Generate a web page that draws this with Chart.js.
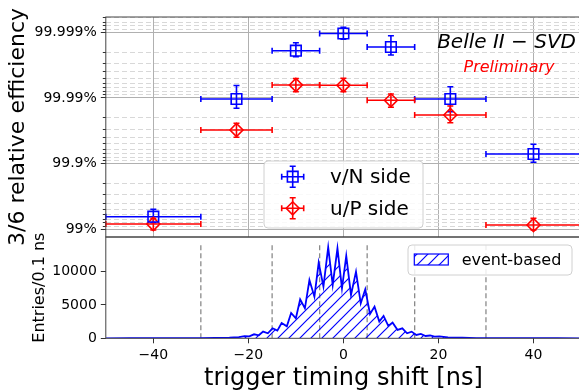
<!DOCTYPE html>
<html>
<head>
<meta charset="utf-8">
<script src="https://cdn.jsdelivr.net/npm/chart.js@4.4.0/dist/chart.umd.min.js"></script>
<style>
  html, body { margin: 0; padding: 0; background: #fff; }
  #wrap { position: relative; width: 579px; height: 392px; overflow: hidden; }
  #wrap canvas { position: absolute; left: 0; top: 0; }
</style>
</head>
<body>
<div id="wrap">
  <canvas id="effChart" width="600" height="392"></canvas>
  <canvas id="histChart" width="600" height="392"></canvas>
</div>
<script>
'use strict';
/*------------- data -------------*/
// trigger timing shift bins [ns]
const binEdges = [-50, -30, -15, -5, 5, 15, 30, 50];
const binCenters = [-40, -22.5, -10, 0, 10, 22.5, 40];

// 3/6 relative efficiency [%] : value, lower bound, upper bound
const effN = [99.357, 99.98963, 99.998093, 99.998957, 99.998325, 99.98963, 99.92865];
const effNLow = [99.207, 99.98563, 99.997647, 99.998721, 99.997782, 99.98381, 99.90457];
const effNHigh = [99.504, 99.99354, 99.998559, 99.999161, 99.998873, 99.99326, 99.94924];
const effP = [99.1696, 99.96925, 99.993652, 99.993585, 99.98915, 99.98183, 99.14];
const effPLow = [98.9751, 99.96028, 99.99197, 99.99197, 99.98612, 99.9762, 98.9751];
const effPHigh = [99.3199, 99.97569, 99.994946, 99.99498, 99.9913, 99.98674, 99.3199];

const effTickValues = [99, 99.9, 99.99, 99.999];
const effTickLabels = ['99%', '99.9%', '99.99%', '99.999%'];
const xTickValues = [-40, -20, 0, 20, 40];
const xTickLabels = ['\u221240', '\u221220', '0', '20', '40'];
const histTickValues = [0, 5000, 10000];
const histTickLabels = ['0', '5000', '10000'];

// event-based histogram, Entries / 0.1 ns (peaks and valleys)
const histX = [-50, -45, -40, -35, -30, -27, -24, -22, -20.8, -19.8, -18.8, -17.8, -16.9, -15.9, -14.9, -13.9,
  -13.0, -11.9, -11.0, -10.0, -9.1, -8.1, -7.15, -6.1, -5.2, -4.2, -3.2, -2.25, -1.25, -0.3, 0.6, 1.6, 2.65,
  3.65, 4.6, 5.6, 6.55, 7.55, 8.45, 9.45, 10.35, 11.4, 12.4, 13.4, 14.35, 15.35, 16.3, 17.3, 18.25, 19.2,
  20.2, 22, 25, 28, 32, 40, 45, 50];
const histY = [2, 4, 8, 15, 30, 50, 100, 180, 330, 300, 600, 450, 1000, 750, 1500, 1150,
  2300, 1800, 3800, 3000, 5850, 4500, 8750, 6250, 11350, 7750, 13650, 8000, 13500, 7500, 12350, 6500, 10000,
  5250, 7350, 3650, 4750, 2500, 3350, 1850, 2350, 1250, 1500, 750, 1000, 500, 650, 350, 420, 250,
  280, 150, 80, 40, 20, 8, 4, 2];
const vlineTop = 14000;

/*------------- layout -------------*/
const axisLeft = 105.8;
const effRange = [5.85e-6, 0.0131]; // inefficiency shown, top to bottom
const histMax = 15200;

Chart.defaults.font.family = 'DejaVu Sans';
Chart.defaults.color = '#000';

function ineff(eff) {
  return (100 - eff) / 100;
}
const effTickIneff = effTickValues.map(ineff);

let minorTicks = [];
for (let k = -6; k <= -1; k++) {
  for (let m = 2; m <= 9; m++) {
    let v = m * Math.pow(10, k);
    if (v >= effRange[0] && v <= effRange[1]) {
      minorTicks.push(v);
    }
  }
}

const series = [
  {label: 'v/N side', color: '#0000ff', style: 'rect', radius: 7.5, eff: effN, low: effNLow, high: effNHigh},
  {label: 'u/P side', color: '#ff0000', style: 'rectRot', radius: 6.5, eff: effP, low: effPLow, high: effPHigh}
];

function drawMarker(ctx, s, x, y, dx, dy, cap) {
  ctx.strokeStyle = s.color;
  ctx.lineWidth = 1.6;
  ctx.beginPath();
  ctx.moveTo(x - dx[0], y); ctx.lineTo(x + dx[1], y);
  ctx.moveTo(x - dx[0], y - cap); ctx.lineTo(x - dx[0], y + cap);
  ctx.moveTo(x + dx[1], y - cap); ctx.lineTo(x + dx[1], y + cap);
  ctx.moveTo(x, y - dy[0]); ctx.lineTo(x, y + dy[1]);
  ctx.moveTo(x - cap, y - dy[0]); ctx.lineTo(x + cap, y - dy[0]);
  ctx.moveTo(x - cap, y + dy[1]); ctx.lineTo(x + cap, y + dy[1]);
  ctx.stroke();
}

function drawFrame(chart, color) {
  const a = chart.chartArea;
  const ctx = chart.ctx;
  ctx.save();
  ctx.strokeStyle = color;
  ctx.lineWidth = 1;
  ctx.strokeRect(a.left, a.top, a.right - a.left, a.bottom - a.top);
  ctx.restore();
}

function roundBox(ctx, x, y, w, h, r) {
  ctx.beginPath();
  ctx.moveTo(x + r, y);
  ctx.arcTo(x + w, y, x + w, y + h, r);
  ctx.arcTo(x + w, y + h, x, y + h, r);
  ctx.arcTo(x, y + h, x, y, r);
  ctx.arcTo(x, y, x + w, y, r);
  ctx.closePath();
  ctx.fillStyle = 'rgba(255,255,255,0.85)';
  ctx.fill();
  ctx.strokeStyle = '#d0d0d0';
  ctx.lineWidth = 1;
  ctx.stroke();
}

/******************* error bars, legend and labels of the top panel *******************/
const effDecor = {
  id: 'effDecor',
  beforeDatasetsDraw(chart) {
    const {ctx, scales: {x, y}} = chart;
    ctx.save();
    series.forEach(s => {
      for (let i = 0; i < binCenters.length; i++) {
        const px = x.getPixelForValue(binCenters[i]);
        const py = y.getPixelForValue(ineff(s.eff[i]));
        const dx = [px - x.getPixelForValue(binEdges[i]), x.getPixelForValue(binEdges[i + 1]) - px];
        const dy = [py - y.getPixelForValue(ineff(s.high[i])), y.getPixelForValue(ineff(s.low[i])) - py];
        drawMarker(ctx, s, px, py, dx, dy, 3);
      }
    });
    ctx.restore();
  },
  afterDatasetsDraw(chart) {
    drawFrame(chart, '#444');
  },
  afterDraw(chart) {
    const ctx = chart.ctx;
    ctx.save();
    // legend
    roundBox(ctx, 264, 161, 159, 67, 4);
    series.forEach((s, i) => {
      const ly = 176.7 + i * 31.6;
      drawMarker(ctx, s, 292.7, ly, [11, 11], [10.5, 10.5], 3);
      ctx.fillStyle = 'rgba(0,0,0,0)';
      ctx.strokeStyle = s.color;
      ctx.lineWidth = 1.6;
      Chart.helpers.drawPoint(ctx, {pointStyle: s.style, radius: s.radius, borderWidth: 1.6}, 292.7, ly);
      ctx.fillStyle = '#000';
      ctx.font = '20px DejaVu Sans';
      ctx.textAlign = 'left';
      ctx.textBaseline = 'middle';
      ctx.fillText(s.label, 330, ly + 1);
    });
    // experiment label
    ctx.textAlign = 'right';
    ctx.font = 'italic 20px DejaVu Sans';
    ctx.fillStyle = '#000';
    ctx.fillText('Belle II \u2212 SVD', 576, 43);
    ctx.textAlign = 'center';
    ctx.font = 'italic 16px DejaVu Sans';
    ctx.fillStyle = '#ff0000';
    ctx.fillText('Preliminary', 509, 68);
    ctx.restore();
  }
};

new Chart(document.getElementById('effChart'), {
  type: 'scatter',
  data: {
    datasets: series.map(s => ({
      label: s.label,
      data: binCenters.map((c, i) => ({x: c, y: ineff(s.eff[i])})),
      pointStyle: s.style,
      pointRadius: s.radius,
      pointBorderWidth: 1.6,
      borderColor: s.color,
      pointBorderColor: s.color,
      pointBackgroundColor: 'rgba(0,0,0,0)',
      backgroundColor: 'rgba(0,0,0,0)'
    }))
  },
  options: {
    responsive: false,
    animation: false,
    layout: {padding: {left: 0, right: 19, top: 17, bottom: 155}},
    plugins: {legend: {display: false}, tooltip: {enabled: false}},
    scales: {
      x: {
        type: 'linear', min: -50, max: 50,
        ticks: {display: false},
        grid: {color: '#b0b0b0', lineWidth: 1, drawTicks: false},
        border: {display: false},
        afterBuildTicks: (scale) => { scale.ticks = xTickValues.map(v => ({value: v})); },
        afterFit: (scale) => { scale.height = 0; }
      },
      y: {
        type: 'logarithmic', reverse: true, position: 'left', weight: 1,
        min: effRange[0], max: effRange[1], bounds: 'data',
        ticks: {
          font: {size: 14}, padding: 4,
          callback: (value) => {
            let idx = effTickIneff.findIndex(v => Math.abs(v - value) / v < 1e-6);
            return idx >= 0 ? effTickLabels[idx] : '';
          }
        },
        grid: {color: '#b0b0b0', lineWidth: 1, tickLength: 5, tickColor: '#333'},
        border: {display: false},
        title: {display: true, text: '3/6 relative efficiency', font: {size: 22, lineHeight: 1}, padding: {top: 7.4, bottom: 0}},
        afterBuildTicks: (scale) => { scale.ticks = effTickIneff.map(v => ({value: v})); },
        afterFit: (scale) => { scale.width = axisLeft; }
      },
      yMinor: {
        type: 'logarithmic', reverse: true, position: 'left', weight: 0,
        min: effRange[0], max: effRange[1], bounds: 'data',
        ticks: {display: false},
        grid: {color: '#d8d8d8', lineWidth: 1, tickLength: 3, tickColor: '#333'},
        border: {display: false, dash: [5, 3]},
        afterBuildTicks: (scale) => { scale.ticks = minorTicks.map(v => ({value: v})); },
        afterFit: (scale) => { scale.width = 0; }
      }
    }
  },
  plugins: [effDecor]
});

/******************* bottom panel : event-based histogram *******************/
const histCanvas = document.getElementById('histChart');

function makeHatch(color) {
  const size = 11;
  const c = document.createElement('canvas');
  c.width = size;
  c.height = size;
  const g = c.getContext('2d');
  g.strokeStyle = color;
  g.lineWidth = 1.2;
  g.beginPath();
  g.moveTo(-1, size + 1); g.lineTo(size + 1, -1);
  g.moveTo(-2, 2); g.lineTo(2, -2);
  g.moveTo(size - 2, size + 2); g.lineTo(size + 2, size - 2);
  g.stroke();
  return histCanvas.getContext('2d').createPattern(c, 'repeat');
}
const hatch = makeHatch('#0000ff');

let vlineData = [];
for (let i = 1; i < binEdges.length - 1; i++) {
  vlineData.push({x: binEdges[i], y: 0}, {x: binEdges[i], y: vlineTop}, {x: binEdges[i], y: null});
}

const histDecor = {
  id: 'histDecor',
  afterDatasetsDraw(chart) {
    drawFrame(chart, '#444');
  },
  afterDraw(chart) {
    const ctx = chart.ctx;
    ctx.save();
    roundBox(ctx, 408, 245, 164, 30, 4);
    ctx.fillStyle = hatch;
    ctx.fillRect(414.3, 254, 34, 11);
    ctx.strokeStyle = '#0000ff';
    ctx.lineWidth = 1.2;
    ctx.strokeRect(414.3, 254, 34, 11);
    ctx.fillStyle = '#000';
    ctx.font = '16px DejaVu Sans';
    ctx.textAlign = 'left';
    ctx.textBaseline = 'middle';
    ctx.fillText('event-based', 461.7, 261);
    ctx.restore();
  }
};

new Chart(histCanvas, {
  type: 'line',
  data: {
    datasets: [
      {
        label: 'event-based',
        data: histX.map((x, i) => ({x: x, y: histY[i]})),
        borderColor: '#0000ff',
        borderWidth: 1.8,
        backgroundColor: hatch,
        fill: 'origin',
        pointRadius: 0,
        tension: 0
      },
      {
        label: 'bins',
        data: vlineData,
        borderColor: '#8a8a8a',
        borderWidth: 1.3,
        borderDash: [5, 3],
        pointRadius: 0,
        fill: false,
        spanGaps: false
      }
    ]
  },
  options: {
    responsive: false,
    animation: false,
    layout: {padding: {left: 0, right: 19, top: 237, bottom: 0}},
    plugins: {legend: {display: false}, tooltip: {enabled: false}},
    scales: {
      x: {
        type: 'linear', min: -50, max: 50,
        ticks: {
          font: {size: 14}, padding: 4, maxRotation: 0,
          callback: (value) => {
            let idx = xTickValues.indexOf(value);
            return idx >= 0 ? xTickLabels[idx] : '';
          }
        },
        grid: {drawOnChartArea: false, tickLength: 5, tickColor: '#333'},
        border: {display: false},
        title: {display: true, text: 'trigger timing shift [ns]', font: {size: 24, lineHeight: 1}, padding: {top: 0, bottom: 1}},
        afterBuildTicks: (scale) => { scale.ticks = xTickValues.map(v => ({value: v})); },
        afterFit: (scale) => { scale.height = 392 - 338.3; }
      },
      y: {
        type: 'linear', min: 0, max: histMax,
        ticks: {
          font: {size: 14}, padding: 4,
          callback: (value) => {
            let idx = histTickValues.indexOf(value);
            return idx >= 0 ? histTickLabels[idx] : '';
          }
        },
        grid: {drawOnChartArea: false, tickLength: 5, tickColor: '#333'},
        border: {display: false},
        title: {display: true, text: 'Entries/0.1 ns', font: {size: 16, lineHeight: 1}, padding: {top: 31.5, bottom: 0}},
        afterBuildTicks: (scale) => { scale.ticks = histTickValues.map(v => ({value: v})); },
        afterFit: (scale) => { scale.width = axisLeft; }
      }
    }
  },
  plugins: [histDecor]
});
</script>
</body>
</html>
